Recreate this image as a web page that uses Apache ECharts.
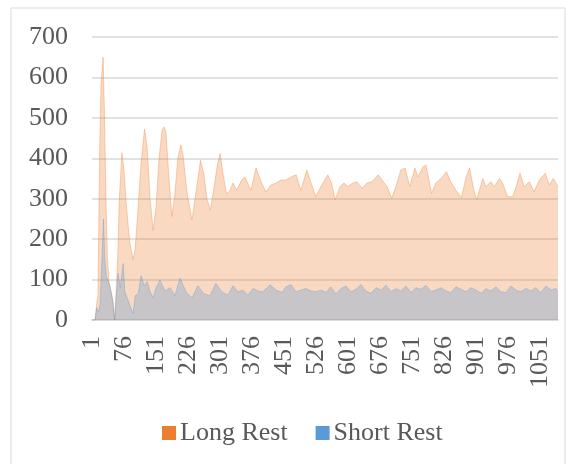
<!DOCTYPE html>
<html>
<head>
<meta charset="utf-8">
<script src="https://cdn.jsdelivr.net/npm/echarts@6/dist/echarts.min.js"></script>
<style>
  html, body { margin: 0; padding: 0; background: #fff; }
  #chart { width: 576px; height: 464px; }
</style>
</head>
<body>
<div id="chart"></div>
<script>
// number of categories on the x axis (1 .. 1092)
const categoryCount = 1092;

// Long Rest envelope at these category numbers
const longRestAt = [1, 8, 12, 15, 19, 22, 27, 30, 34, 37, 41, 45, 50, 54, 57, 61, 65, 71, 76, 81,
  89, 97, 102, 109, 116, 124, 130, 137, 144, 151, 158, 165, 170, 174, 180, 188, 195, 202, 209, 214,
  223, 235, 245, 255, 263, 270, 278, 287, 294, 301, 308, 316, 324, 331, 340, 351, 359, 373, 385, 397,
  408, 420, 432, 443, 455, 467, 479, 490, 504, 514, 525, 537, 553, 562, 570, 582, 591, 600, 612, 621,
  633, 645, 656, 671, 680, 692, 703, 715, 724, 734, 745, 757, 764, 776, 783, 796, 806, 818, 831, 841,
  853, 866, 877, 885, 895, 902, 908, 916, 923, 935, 943, 955, 962, 974, 986, 994, 1003, 1013, 1025, 1036,
  1048, 1062, 1072, 1081, 1092];
const longRest = [0, 0, 40, 60, 420, 580, 650, 520, 280, 160, 90, 70, 45, 0, 0, 150, 300, 414, 370, 290,
  195, 150, 175, 280, 390, 472, 430, 300, 222, 280, 400, 470, 478, 465, 370, 256, 310, 400, 433, 410,
  320, 247, 320, 395, 360, 300, 272, 330, 380, 412, 360, 312, 320, 339, 321, 346, 354, 321, 376, 342,
  317, 334, 339, 346, 346, 354, 359, 321, 371, 339, 305, 330, 359, 339, 297, 330, 339, 330, 339, 342,
  326, 339, 342, 359, 346, 330, 301, 339, 371, 376, 330, 376, 354, 379, 383, 313, 339, 350, 367, 342,
  321, 303, 354, 376, 321, 297, 321, 350, 330, 342, 330, 350, 339, 305, 305, 330, 363, 330, 342, 317,
  346, 363, 334, 350, 330];

// Short Rest
const shortRestAt = [1, 8, 12, 16, 20, 23, 28, 31, 35, 38, 43, 48, 51, 54, 58, 62, 67, 74, 78, 85,
  92, 97, 102, 109, 116, 123, 130, 137, 144, 151, 160, 172, 184, 195, 207, 221, 235, 249, 263, 277,
  291, 305, 319, 331, 343, 354, 366, 378, 390, 401, 418, 432, 446, 455, 467, 479, 490, 502, 514, 525,
  537, 549, 560, 572, 584, 596, 607, 619, 631, 642, 654, 666, 678, 689, 701, 713, 724, 736, 748, 759,
  771, 783, 795, 806, 818, 830, 841, 853, 865, 877, 888, 900, 912, 923, 935, 947, 958, 970, 982, 994,
  1005, 1017, 1029, 1040, 1052, 1064, 1076, 1087, 1092];
const shortRest = [0, 0, 30, 20, 40, 120, 250, 150, 105, 100, 85, 60, 35, 0, 0, 116, 80, 140, 70, 50,
  30, 16, 60, 65, 110, 85, 95, 70, 55, 80, 99, 72, 80, 60, 104, 70, 55, 85, 65, 60,
  91, 70, 62, 85, 70, 74, 62, 78, 72, 70, 87, 74, 68, 82, 87, 70, 74, 78, 72, 70,
  74, 68, 82, 65, 78, 84, 70, 76, 88, 72, 66, 80, 74, 86, 70, 78, 72, 84, 68, 80,
  76, 86, 70, 74, 80, 72, 68, 82, 76, 70, 80, 74, 66, 78, 72, 82, 70, 68, 84, 74,
  70, 78, 72, 80, 68, 84, 74, 78, 70];

const yTicks = [0, 100, 200, 300, 400, 500, 600, 700];

const categories = [];
for (let i = 1; i <= categoryCount; i++) categories.push(String(i));

const pairs = (at, vals) => at.map((c, i) => [c - 1, vals[i]]);

const font = '"Liberation Serif", "Times New Roman", serif';
const chart = echarts.init(document.getElementById('chart'));

chart.setOption({
  animation: false,
  graphic: [{
    type: 'rect',
    shape: { x: 11, y: 8, width: 554, height: 470 },
    style: { fill: 'none', stroke: '#d9d9d9', lineWidth: 1 },
    silent: true
  }],
  legend: {
    left: 157,
    top: 415,
    icon: 'rect',
    itemWidth: 14,
    itemHeight: 14,
    itemGap: 28,
    textStyle: { fontFamily: font, fontSize: 26, color: '#595959', padding: [0, 0, 0, -1] },
    data: ['Long Rest', 'Short Rest']
  },
  grid: { left: 92, right: 18, top: 37, bottom: 144 },
  xAxis: {
    type: 'category',
    data: categories,
    boundaryGap: false,
    axisLine: { lineStyle: { color: '#d9d9d9', width: 1.5 } },
    axisTick: { show: false },
    axisLabel: {
      interval: 74,
      rotate: 90,
      margin: 16,
      fontFamily: font,
      fontSize: 26,
      color: '#595959'
    }
  },
  yAxis: {
    type: 'value',
    min: yTicks[0],
    max: yTicks[yTicks.length - 1],
    interval: 100,
    axisLine: { show: false },
    axisTick: { show: false },
    splitLine: { lineStyle: { color: '#d9d9d9', width: 1.5 } },
    axisLabel: { margin: 24, fontFamily: font, fontSize: 26, color: '#595959' }
  },
  series: [
    {
      name: 'Long Rest',
      type: 'line',
      data: pairs(longRestAt, longRest),
      showSymbol: false,
      itemStyle: { color: '#ED7D31' },
      lineStyle: { color: 'rgba(237,125,49,0.35)', width: 1 },
      areaStyle: { color: 'rgba(237,125,49,0.42)' },
      z: 1
    },
    {
      name: 'Short Rest',
      type: 'line',
      data: pairs(shortRestAt, shortRest),
      showSymbol: false,
      itemStyle: { color: '#5B9BD5' },
      lineStyle: { color: 'rgba(91,155,213,0.35)', width: 1 },
      areaStyle: { color: 'rgba(91,155,213,0.45)' },
      z: 2
    }
  ]
});
</script>
</body>
</html>
